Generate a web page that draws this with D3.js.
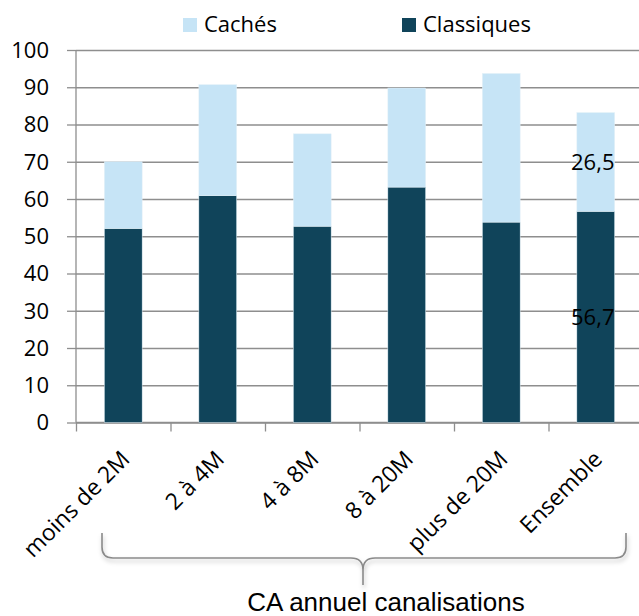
<!DOCTYPE html>
<html>
<head>
<meta charset="utf-8">
<script src="https://cdn.jsdelivr.net/npm/d3@7"></script>
<style>
  body { margin: 0; background: #fff; }
  text { font-family: "Open Sans", sans-serif; fill: #000; }
  .domain { display: none; }
</style>
</head>
<body>
<div id="chart"></div>
<script>
// data
var categories = ["moins de 2M", "2 à 4M", "4 à 8M", "8 à 20M", "plus de 20M", "Ensemble"];
var classiquesData = [52.1, 60.9, 52.7, 63.2, 53.8, 56.7];
var cachesData = [17.9, 29.8, 24.8, 26.6, 39.9, 26.5];
var yTicks = [0, 10, 20, 30, 40, 50, 60, 70, 80, 90, 100];
var seriesNames = ["Cachés", "Classiques"];
var labelledBars = ["Ensemble"];
var axisTitle = "CA annuel canalisations";

var svgWidth = 639;
var svgHeight = 616;

var plotLeft = 76, plotRight = 643, plotTop = 50, plotBottom = 422.5;
var lightBlue = "#c6e4f6";
var darkBlue = "#10445a";
var gridGrey = "#8e8e8e";

var svg = d3.select("#chart")
  .append("svg")
  .attr("width", svgWidth)
  .attr("height", svgHeight);

var rows = categories.map(function(c, i) {
  return { cat: c, classiques: classiquesData[i], caches: cachesData[i] };
});

// bottom segment first
var layers = d3.stack().keys(["classiques", "caches"])(rows);

var x = d3.scaleBand()
  .domain(categories)
  .range([plotLeft, plotRight])
  .paddingInner(0.6)
  .paddingOuter(0.3);

var y = d3.scaleLinear()
  .domain([0, 100])
  .range([plotBottom, plotTop]);

// gridlines
svg.append("g")
  .attr("transform", `translate(${plotLeft},0)`)
  .call(d3.axisLeft(y).tickValues(yTicks).tickSize(-(plotRight - plotLeft)).tickFormat(""))
  .selectAll("line")
  .attr("stroke", gridGrey)
  .attr("stroke-width", 1.3);

// y axis ticks + labels
var yAxis = svg.append("g")
  .attr("transform", `translate(${plotLeft},0)`)
  .call(d3.axisLeft(y).tickValues(yTicks).tickSize(9).tickPadding(18));
yAxis.selectAll("line").attr("stroke", gridGrey).attr("stroke-width", 1.3);
yAxis.selectAll("text")
  .style("font-size", "22px")
  .style("font-family", "Open Sans")
  .attr("dy", "0.33em");

svg.append("line")
  .attr("x1", plotLeft).attr("x2", plotLeft)
  .attr("y1", plotTop).attr("y2", plotBottom)
  .attr("stroke", gridGrey).attr("stroke-width", 1.3);

// x axis: ticks on category boundaries
var xEdges = d3.scaleLinear().domain([0, categories.length]).range([plotLeft, plotRight]);
var xAxis = svg.append("g")
  .attr("transform", `translate(0,${plotBottom})`)
  .call(d3.axisBottom(xEdges).tickValues(d3.range(categories.length + 1)).tickSize(9).tickFormat(""));
xAxis.selectAll("line").attr("stroke", gridGrey).attr("stroke-width", 1.3);

svg.append("line")
  .attr("x1", plotLeft).attr("x2", plotRight)
  .attr("y1", plotBottom).attr("y2", plotBottom)
  .attr("stroke", gridGrey).attr("stroke-width", 1.3);

// bars
var colors = { classiques: darkBlue, caches: lightBlue };
svg.append("g")
  .selectAll("g")
  .data(layers)
  .enter()
  .append("g")
  .attr("fill", d => colors[d.key])
  .selectAll("rect")
  .data(d => d)
  .enter()
  .append("rect")
  .attr("x", d => x(d.data.cat))
  .attr("y", d => y(d[1]))
  .attr("width", x.bandwidth())
  .attr("height", d => y(d[0]) - y(d[1]))
  .attr("stroke", "#e4f1f8")
  .attr("stroke-width", 0.5);

// value labels on the Ensemble bar
var fmt = d3.format(".1f");
layers.forEach(function(layer) {
  svg.append("g")
    .selectAll("text")
    .data(layer.filter(d => labelledBars.indexOf(d.data.cat) >= 0))
    .enter()
    .append("text")
    .attr("x", d => x(d.data.cat) + x.bandwidth() / 2 - 3)
    .attr("y", d => y((d[0] + d[1]) / 2))
    .attr("dy", "0.35em")
    .attr("text-anchor", "middle")
    .style("font-size", "22px")
    .text(d => fmt(d[1] - d[0]).replace(".", ","));
});

// category labels, rotated
svg.append("g")
  .selectAll("text")
  .data(categories)
  .enter()
  .append("text")
  .attr("transform", d => `translate(${x(d) + x.bandwidth() / 2 + 8},${plotBottom + 38}) rotate(-45)`)
  .attr("text-anchor", "end")
  .style("font-size", "23px")
  .text(d => d);

// legend
var legendPos = [183, 402];
var legendColors = [lightBlue, darkBlue];
var legend = svg.append("g")
  .selectAll("g")
  .data(seriesNames)
  .enter()
  .append("g")
  .attr("transform", (d, i) => `translate(${legendPos[i]},18)`);
legend.append("rect")
  .attr("width", 14).attr("height", 14)
  .attr("fill", (d, i) => legendColors[i]);
legend.append("text")
  .attr("x", 21)
  .attr("y", 14)
  .style("font-size", "22px")
  .text(d => d);

// brace under the categories
var defs = svg.append("defs");
var f = defs.append("filter").attr("id", "shadow").attr("x", "-5%").attr("y", "-50%").attr("width", "110%").attr("height", "200%");
f.append("feDropShadow").attr("dx", 1).attr("dy", 3).attr("stdDeviation", 2).attr("flood-color", "#000").attr("flood-opacity", 0.25);

var bx0 = 102, bx1 = 626, by0 = 533, by1 = 558, tipX = 363, tipY = 585, r = 11;
var bracePath = d3.path();
bracePath.moveTo(bx0, by0);
bracePath.lineTo(bx0, by1 - r);
bracePath.quadraticCurveTo(bx0, by1, bx0 + r, by1);
bracePath.lineTo(tipX - 12, by1);
bracePath.quadraticCurveTo(tipX, by1, tipX, by1 + 12);
bracePath.lineTo(tipX, tipY);
bracePath.moveTo(tipX, by1 + 12);
bracePath.quadraticCurveTo(tipX, by1, tipX + 12, by1);
bracePath.lineTo(bx1 - r, by1);
bracePath.quadraticCurveTo(bx1, by1, bx1, by1 - r);
bracePath.lineTo(bx1, by0);

svg.append("path")
  .attr("d", bracePath.toString())
  .attr("fill", "none")
  .attr("stroke", "#8a8a8a")
  .attr("stroke-width", 1.6)
  .attr("filter", "url(#shadow)");

svg.append("text")
  .attr("x", 386)
  .attr("y", 611)
  .attr("text-anchor", "middle")
  .style("font-family", "'Liberation Sans', Arial, sans-serif")
  .style("font-size", "26px")
  .text(axisTitle);
</script>
</body>
</html>
